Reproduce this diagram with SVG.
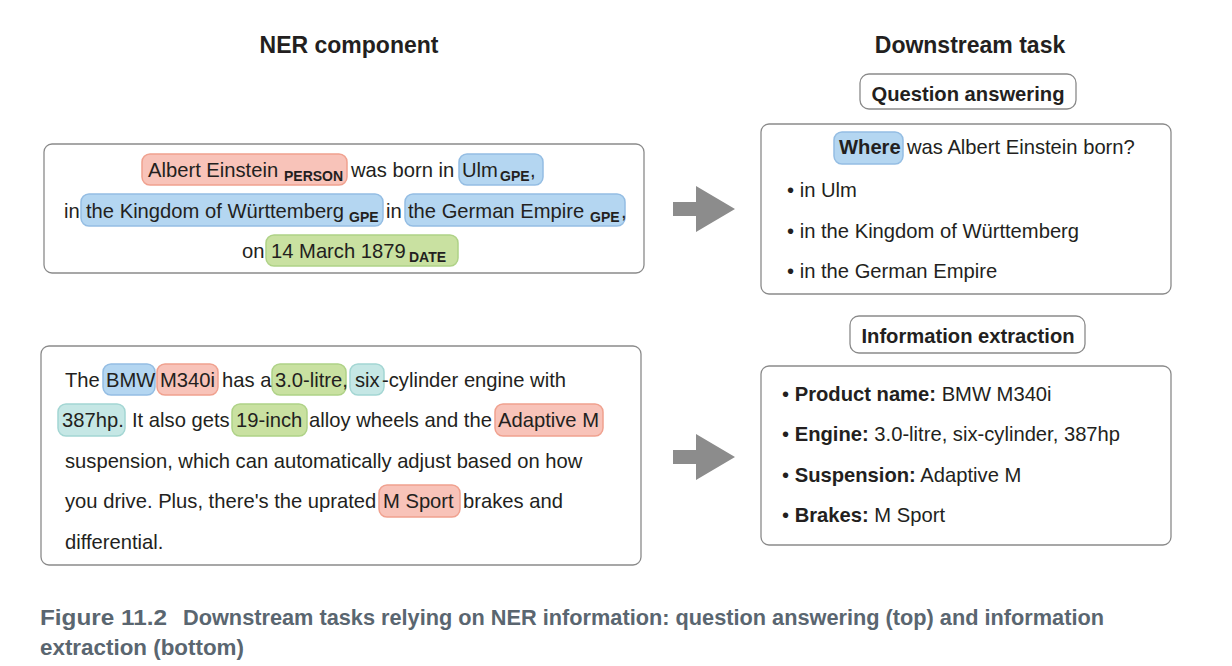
<svg xmlns="http://www.w3.org/2000/svg" width="1232" height="666" viewBox="0 0 1232 666">
<style>
text{font-family:"Liberation Sans",Arial,sans-serif;fill:#231f20}
.t{font-size:20.2px}
.b{font-weight:bold}
.sub{font-size:14px;font-weight:bold}
.h{font-size:23px;font-weight:bold}
.box{fill:#fff;stroke:#8a8a8a;stroke-width:1.3}
.red{fill:#f8c3b9;stroke:#f0a18f;stroke-width:1.5}
.blue{fill:#b4d6f1;stroke:#94bde3;stroke-width:1.5}
.green{fill:#c9e1a1;stroke:#afd287;stroke-width:1.5}
.teal{fill:#c5e7e5;stroke:#a3d6d3;stroke-width:1.5}
.arrow{fill:#8c8c8c}
.cap{font-family:"Liberation Sans",Arial,sans-serif;font-weight:bold;font-size:22px;fill:#5a6670}
</style>
<rect width="1232" height="666" fill="#fff"/>

<g id="titles">
<text class="h" x="349" y="53" text-anchor="middle">NER component</text>
<text class="h" x="970" y="53" text-anchor="middle">Downstream task</text>
</g>

<g id="ner-einstein">
<rect class="box" x="44" y="144" width="600" height="129" rx="8"/>
<rect class="red" x="142" y="154" width="205" height="31" rx="8"/>
<rect class="blue" x="459" y="154" width="84" height="31" rx="8"/>
<rect class="blue" x="81" y="194" width="302" height="32" rx="8"/>
<rect class="blue" x="405" y="194" width="220" height="32" rx="8"/>
<rect class="green" x="266" y="235" width="192" height="31" rx="8"/>
<text class="t" x="148" y="177">Albert Einstein</text>
<text class="sub" x="284" y="181">PERSON</text>
<text class="t" x="351" y="177">was born in</text>
<text class="t" x="462" y="177">Ulm</text>
<text class="sub" x="500" y="181">GPE</text>
<text class="t" x="530" y="177">,</text>
<text class="t" x="64" y="218">in</text>
<text class="t" x="86" y="218">the Kingdom of Württemberg</text>
<text class="sub" x="349" y="222">GPE</text>
<text class="t" x="386" y="218">in</text>
<text class="t" x="408" y="218">the German Empire</text>
<text class="sub" x="590" y="222">GPE</text>
<text class="t" x="621" y="218">,</text>
<text class="t" x="242" y="258">on</text>
<text class="t" x="271" y="258">14 March 1879</text>
<text class="sub" x="409" y="262">DATE</text>
</g>

<g id="ner-bmw">
<rect class="box" x="41" y="346" width="600" height="219" rx="8"/>
<rect class="blue" x="103" y="364" width="52" height="31" rx="8"/>
<rect class="red" x="157" y="364" width="61" height="31" rx="8"/>
<rect class="green" x="272" y="364" width="74" height="31" rx="8"/>
<rect class="teal" x="350" y="364" width="34" height="31" rx="8"/>
<rect class="teal" x="58" y="404" width="67" height="32" rx="8"/>
<rect class="green" x="232" y="404" width="75" height="32" rx="8"/>
<rect class="red" x="495" y="404" width="108" height="32" rx="8"/>
<rect class="red" x="379" y="485" width="81" height="32" rx="8"/>
<text class="t" x="65" y="387">The</text>
<text class="t" x="106" y="387">BMW</text>
<text class="t" x="160" y="387">M340i</text>
<text class="t" x="222" y="387">has a</text>
<text class="t" x="275" y="387">3.0-litre,</text>
<text class="t" x="355" y="387">six</text>
<text class="t" x="382" y="387">-cylinder engine with</text>
<text class="t" x="62" y="427">387hp.</text>
<text class="t" x="132" y="427">It also gets</text>
<text class="t" x="236" y="427">19-inch</text>
<text class="t" x="309" y="427">alloy wheels and the</text>
<text class="t" x="498" y="427">Adaptive M</text>
<text class="t" x="65" y="468">suspension, which can automatically adjust based on how</text>
<text class="t" x="65" y="508">you drive. Plus, there's the uprated</text>
<text class="t" x="383" y="508">M Sport</text>
<text class="t" x="463" y="508">brakes and</text>
<text class="t" x="65" y="549">differential.</text>
</g>

<g id="connectors">
<polygon class="arrow" points="673,202 696,202 696,186 735,209 696,232 696,216 673,216"/>
<polygon class="arrow" points="673,450 696,450 696,434 735,457 696,480 696,464 673,464"/>
</g>

<g id="qa-label">
<rect class="box" x="860" y="74" width="216" height="35" rx="9"/>
<text class="t b" x="968" y="101" text-anchor="middle">Question answering</text>
</g>

<g id="qa">
<rect class="box" x="761" y="124" width="410" height="170" rx="8"/>
<rect class="blue" x="834" y="132" width="69" height="32" rx="8"/>
<text class="t b" x="839" y="154">Where</text>
<text class="t" x="907" y="154">was Albert Einstein born?</text>
<text class="t" x="787" y="197">• in Ulm</text>
<text class="t" x="787" y="238">• in the Kingdom of Württemberg</text>
<text class="t" x="787" y="278">• in the German Empire</text>
</g>

<g id="ie-label">
<rect class="box" x="850" y="316" width="235" height="37" rx="9"/>
<text class="t b" x="968" y="343" text-anchor="middle">Information extraction</text>
</g>

<g id="ie">
<rect class="box" x="761" y="366" width="410" height="179" rx="8"/>
<text class="t" x="782" y="401">• <tspan class="b">Product name:</tspan> BMW M340i</text>
<text class="t" x="782" y="441">• <tspan class="b">Engine:</tspan> 3.0-litre, six-cylinder, 387hp</text>
<text class="t" x="782" y="482">• <tspan class="b">Suspension:</tspan> Adaptive M</text>
<text class="t" x="782" y="522">• <tspan class="b">Brakes:</tspan> M Sport</text>
</g>

<g id="caption">
<text class="cap" x="40" y="625" textLength="127" lengthAdjust="spacingAndGlyphs">Figure 11.2</text>
<text class="cap" x="183" y="625" textLength="921" lengthAdjust="spacingAndGlyphs">Downstream tasks relying on NER information: question answering (top) and information</text>
<text class="cap" x="40" y="655" textLength="204" lengthAdjust="spacingAndGlyphs">extraction (bottom)</text>
</g>
</svg>
